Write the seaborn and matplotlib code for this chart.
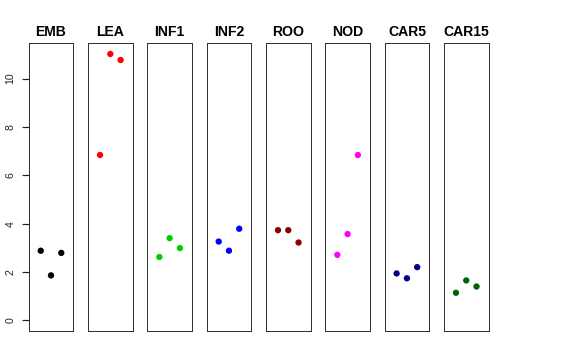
import pandas as pd
import matplotlib
matplotlib.use("Agg")
import matplotlib.pyplot as plt
import seaborn as sns

# --- Datos ---
tissues = ["EMB", "LEA", "INF1", "INF2", "ROO", "NOD", "CAR5", "CAR15"]
replicates = [1, 2, 3]
emb = [2.88, 1.86, 2.79]
lea = [6.84, 11.02, 10.77]
inf1 = [2.62, 3.40, 2.99]
inf2 = [3.26, 2.88, 3.79]
roo = [3.73, 3.73, 3.22]
nod = [2.71, 3.57, 6.84]
car5 = [1.94, 1.74, 2.20]
car15 = [1.14, 1.65, 1.40]
colors = ["#000000", "#FF0000", "#00CD00", "#0000FF",
          "#8B0000", "#FF00FF", "#00008B", "#006400"]

values = [emb, lea, inf1, inf2, roo, nod, car5, car15]
df = pd.DataFrame({
    "tissue": [t for t in tissues for _ in replicates],
    "rep": replicates * len(tissues),
    "expr": [v for vals in values for v in vals],
})

sns.set_style("ticks")
plt.rcParams["font.family"] = ["Liberation Sans", "DejaVu Sans"]

W, H = 576, 360
fig = plt.figure(figsize=(W / 72, H / 72), dpi=72)

ymax = df["expr"].max()
ylim = (-0.04 * ymax, ymax * 1.04)
left0, pitch, width = 28.7, 59.32, 44.6
top, bottom = 43.3, 331.0

for i, (tissue, color) in enumerate(zip(tissues, colors)):
    ax = fig.add_axes([(left0 + i * pitch) / W, (H - bottom) / H,
                       width / W, (bottom - top) / H])
    sub = df[df["tissue"] == tissue]
    sns.scatterplot(data=sub, x="rep", y="expr", color=color, s=40,
                    edgecolor="none", ax=ax, legend=False)
    ax.set_xlim(-0.17, 4.17)
    ax.set_ylim(*ylim)
    ax.set_xticks([])
    ax.set_xlabel("")
    ax.set_ylabel("")
    ax.set_title(tissue, fontsize=14, fontweight="bold", color="black", pad=7)
    for sp in ax.spines.values():
        sp.set_visible(True)
        sp.set_color("#333333")
        sp.set_linewidth(1.0)
    if i == 0:
        ax.set_yticks([0, 2, 4, 6, 8, 10])
        ax.tick_params(axis="y", left=True, length=7.5, width=1.2,
                       color="#222222", labelsize=10.5, labelcolor="#222222",
                       direction="out", pad=5.5, labelrotation=90)
        for lab in ax.get_yticklabels():
            lab.set_va("center")
    else:
        ax.set_yticks([])
        ax.tick_params(axis="y", left=False)

fig.savefig("out.png", dpi=72)
plt.close(fig)
